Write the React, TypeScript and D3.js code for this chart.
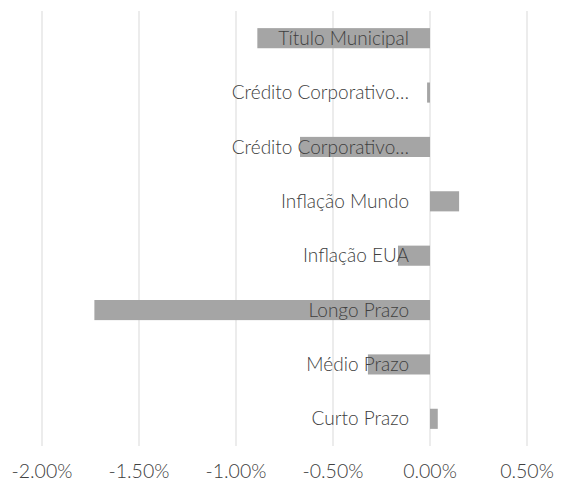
import * as d3 from "d3";
import React, { useEffect, useRef } from "react";

const categories = [
  "Título Municipal",
  "Crédito Corporativo…",
  "Crédito Corporativo…",
  "Inflação Mundo",
  "Inflação EUA",
  "Longo Prazo",
  "Médio Prazo",
  "Curto Prazo",
];
const values = [-0.0089, -0.00015, -0.0067, 0.0015, -0.00165, -0.0173, -0.0032, 0.0004];
const ticks = [-0.02, -0.015, -0.01, -0.005, 0, 0.005];

export default function App() {
  const ref = useRef<SVGSVGElement>(null);

  useEffect(() => {
    const svg = d3.select(ref.current);
    svg.selectAll("*").remove();

    const width = 561;
    const height = 489;
    const margin = { top: 11, right: 34, bottom: 43, left: 42 };

    const x = d3.scaleLinear()
      .domain([-0.02, 0.005])
      .range([margin.left, width - margin.right]);

    const y = d3.scaleBand()
      .domain(categories.map((_, i) => String(i)))
      .range([margin.top, height - margin.bottom])
      .paddingInner(0.63)
      .paddingOuter(0.315);

    // gridlines
    svg.append("g")
      .selectAll("line")
      .data(ticks)
      .join("line")
      .attr("x1", d => x(d))
      .attr("x2", d => x(d))
      .attr("y1", margin.top)
      .attr("y2", height - margin.bottom)
      .attr("stroke", "#d9d9d9")
      .attr("stroke-width", 1);

    // bars
    svg.append("g")
      .selectAll("rect")
      .data(values)
      .join("rect")
      .attr("x", d => Math.min(x(0), x(d)))
      .attr("y", (_, i) => y(String(i))!)
      .attr("width", d => Math.abs(x(d) - x(0)))
      .attr("height", y.bandwidth())
      .attr("fill", "#a5a5a5");

    // category labels next to zero line
    svg.append("g")
      .selectAll("text")
      .data(categories)
      .join("text")
      .attr("x", x(0) - 21)
      .attr("y", (_, i) => y(String(i))! + y.bandwidth() / 2)
      .attr("dy", "0.35em")
      .attr("text-anchor", "end")
      .attr("fill", "#404040")
      .style("font-family", "Lato, 'Open Sans', sans-serif")
      .style("font-weight", 300)
      .style("font-size", "19px")
      .text(d => d);

    // tick labels
    svg.append("g")
      .selectAll("text")
      .data(ticks)
      .join("text")
      .attr("x", d => x(d))
      .attr("y", height - 18)
      .attr("dy", "0.35em")
      .attr("text-anchor", "middle")
      .attr("fill", "#404040")
      .style("font-family", "Lato, 'Open Sans', sans-serif")
      .style("font-weight", 300)
      .style("font-size", "19.5px")
      .text(d => d3.format(".2%")(d).replace("−", "-"));
  }, []);

  return (
    <svg
      ref={ref}
      width={561}
      height={489}
      style={{ position: "absolute", left: 0, top: 0, background: "#fff" }}
    />
  );
}
